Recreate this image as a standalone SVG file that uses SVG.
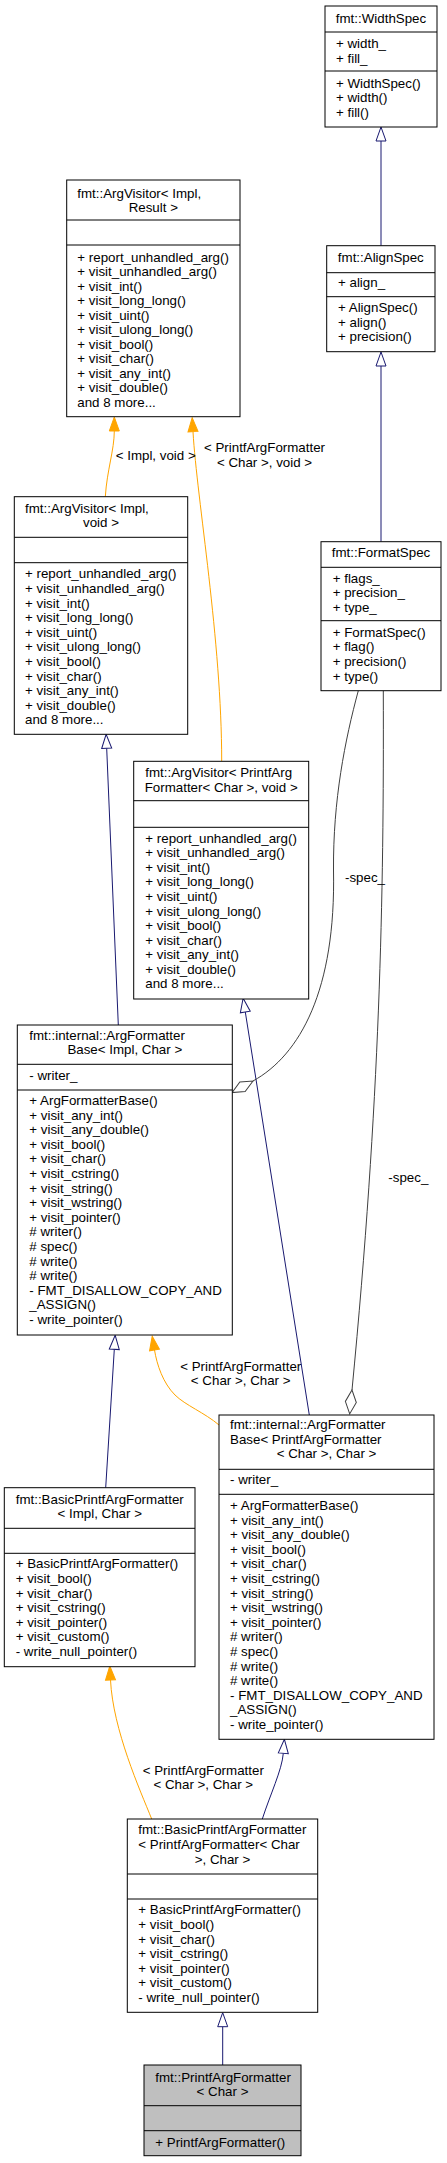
<svg xmlns="http://www.w3.org/2000/svg" width="447" height="2163" viewBox="0 0 447 2163">
<style>
.box{fill:#fff;stroke:#000;stroke-width:1}
.grey{fill:#bfbfbf}
.sep{stroke:#000;stroke-width:1}
text{font-family:"Liberation Sans",Arial,Helvetica,sans-serif;font-size:13.33px;fill:#000}
.m{text-anchor:middle}
.e{fill:none;stroke-width:1}
.inh{stroke:#191970}
.tpl{stroke:#ffa500}
.use{stroke:#404040}
</style>
<defs>
<marker id="aInh" markerUnits="userSpaceOnUse" orient="auto" overflow="visible" refX="0" refY="0" markerWidth="14" markerHeight="10"><path d="M0,-5 L14,0 L0,5 Z" fill="#fff" stroke="#191970"/></marker>
<marker id="aTpl" markerUnits="userSpaceOnUse" orient="auto" overflow="visible" refX="0" refY="0" markerWidth="14" markerHeight="10"><path d="M0,-5 L14,0 L0,5 Z" fill="#ffa500" stroke="#ffa500"/></marker>
<marker id="aAgg" markerUnits="userSpaceOnUse" orient="auto" overflow="visible" refX="0" refY="0" markerWidth="24" markerHeight="11"><path d="M0,0 L12,-5.5 L24,0 L12,5.5 Z" fill="#fff" stroke="#404040"/></marker>
</defs>

<g id="edges">
<path class="e inh" d="M381,245.7 L381,141" marker-end="url(#aInh)"/>
<path class="e inh" d="M381,541.7 L381,366" marker-end="url(#aInh)"/>
<path class="e tpl" d="M105.3,496.7 C107,470 114.3,450 114.3,431" marker-end="url(#aTpl)"/>
<path class="e tpl" d="M221.7,761.3 C221.7,640 197,500 193,431.7" marker-end="url(#aTpl)"/>
<path class="e inh" d="M118.3,1025 L106.7,748.3" marker-end="url(#aInh)"/>
<path class="e inh" d="M309.3,1415 L245.3,1012" marker-end="url(#aInh)"/>
<path class="e use" d="M358.3,690.7 C345,740 333,800 333.5,870 C336,990 300,1055 253,1081" marker-end="url(#aAgg)"/>
<path class="e use" d="M383.3,690.7 C384,900 380,1100 352,1390" marker-end="url(#aAgg)"/>
<path class="e tpl" d="M219,1425 C205,1413 185,1405 175,1395 C163,1383 157,1365 154.5,1350" marker-end="url(#aTpl)"/>
<path class="e inh" d="M105.7,1487.7 L114.3,1349.3" marker-end="url(#aInh)"/>
<path class="e tpl" d="M151.7,1819 C140,1790 113,1730 110.5,1680" marker-end="url(#aTpl)"/>
<path class="e inh" d="M262.3,1819 C270,1795 282,1770 283.3,1753.3" marker-end="url(#aInh)"/>
<path class="e inh" d="M222.7,2065 L222.7,2026.7" marker-end="url(#aInh)"/>
<text x="115.7" y="460">&lt; Impl, void &gt;</text>
<text class="m" x="264.5" y="452.3">&lt; PrintfArgFormatter</text>
<text class="m" x="264.5" y="467.3">&lt; Char &gt;, void &gt;</text>
<text x="345" y="881.7">-spec_</text>
<text x="388.3" y="1181.7">-spec_</text>
<text class="m" x="240.7" y="1370.7">&lt; PrintfArgFormatter</text>
<text class="m" x="240.7" y="1384.7">&lt; Char &gt;, Char &gt;</text>
<text class="m" x="203.3" y="1775">&lt; PrintfArgFormatter</text>
<text class="m" x="203.3" y="1789.3">&lt; Char &gt;, Char &gt;</text>
</g>

<g id="WidthSpec">
<rect class="box" x="325" y="6" width="112" height="121"/>
<line class="sep" x1="325" y1="32" x2="437" y2="32"/>
<line class="sep" x1="325" y1="71" x2="437" y2="71"/>
<text class="m" x="381" y="23">fmt::WidthSpec</text>
<text x="336" y="48">+ width_</text>
<text x="336" y="62.6">+ fill_</text>
<text x="336" y="87.7">+ WidthSpec()</text>
<text x="336" y="102.3">+ width()</text>
<text x="336" y="116.9">+ fill()</text>
</g>

<g id="AlignSpec">
<rect class="box" x="326.7" y="245.7" width="108.3" height="106"/>
<line class="sep" x1="326.7" y1="272.7" x2="435" y2="272.7"/>
<line class="sep" x1="326.7" y1="296.7" x2="435" y2="296.7"/>
<text class="m" x="380.8" y="262">fmt::AlignSpec</text>
<text x="338" y="287">+ align_</text>
<text x="338" y="312">+ AlignSpec()</text>
<text x="338" y="326.6">+ align()</text>
<text x="338" y="341.2">+ precision()</text>
</g>

<g id="FormatSpec">
<rect class="box" x="321" y="541.7" width="120" height="149"/>
<line class="sep" x1="321" y1="567.3" x2="441" y2="567.3"/>
<line class="sep" x1="321" y1="620.7" x2="441" y2="620.7"/>
<text class="m" x="381" y="557">fmt::FormatSpec</text>
<text x="332.7" y="582.7">+ flags_</text>
<text x="332.7" y="597.2">+ precision_</text>
<text x="332.7" y="611.7">+ type_</text>
<text x="332.7" y="636.7">+ FormatSpec()</text>
<text x="332.7" y="651.3">+ flag()</text>
<text x="332.7" y="665.9">+ precision()</text>
<text x="332.7" y="680.5">+ type()</text>
</g>

<g id="ArgVisitorImplResult">
<rect class="box" x="66.7" y="180" width="173.3" height="236.7"/>
<line class="sep" x1="66.7" y1="220" x2="240" y2="220"/>
<line class="sep" x1="66.7" y1="245" x2="240" y2="245"/>
<text x="77.3" y="198.3">fmt::ArgVisitor&lt; Impl,</text>
<text class="m" x="153.3" y="212">Result &gt;</text>
<text x="77.3" y="261.7">+ report_unhandled_arg()</text>
<text x="77.3" y="276.2">+ visit_unhandled_arg()</text>
<text x="77.3" y="290.7">+ visit_int()</text>
<text x="77.3" y="305.2">+ visit_long_long()</text>
<text x="77.3" y="319.7">+ visit_uint()</text>
<text x="77.3" y="334.2">+ visit_ulong_long()</text>
<text x="77.3" y="348.7">+ visit_bool()</text>
<text x="77.3" y="363.2">+ visit_char()</text>
<text x="77.3" y="377.7">+ visit_any_int()</text>
<text x="77.3" y="392.2">+ visit_double()</text>
<text x="77.3" y="406.7">and 8 more...</text>
</g>

<g id="ArgVisitorImplVoid">
<rect class="box" x="14.3" y="496.7" width="173.4" height="237.6"/>
<line class="sep" x1="14.3" y1="537.3" x2="187.7" y2="537.3"/>
<line class="sep" x1="14.3" y1="562.7" x2="187.7" y2="562.7"/>
<text x="25" y="513.3">fmt::ArgVisitor&lt; Impl,</text>
<text class="m" x="101" y="527">void &gt;</text>
<text x="25" y="578.3">+ report_unhandled_arg()</text>
<text x="25" y="592.9">+ visit_unhandled_arg()</text>
<text x="25" y="607.5">+ visit_int()</text>
<text x="25" y="622.1">+ visit_long_long()</text>
<text x="25" y="636.7">+ visit_uint()</text>
<text x="25" y="651.3">+ visit_ulong_long()</text>
<text x="25" y="665.9">+ visit_bool()</text>
<text x="25" y="680.5">+ visit_char()</text>
<text x="25" y="695.1">+ visit_any_int()</text>
<text x="25" y="709.7">+ visit_double()</text>
<text x="25" y="724.3">and 8 more...</text>
</g>

<g id="ArgVisitorPrintfVoid">
<rect class="box" x="133.7" y="761.3" width="175" height="237.7"/>
<line class="sep" x1="133.7" y1="800.7" x2="308.7" y2="800.7"/>
<line class="sep" x1="133.7" y1="827.3" x2="308.7" y2="827.3"/>
<text x="145.3" y="776.7">fmt::ArgVisitor&lt; PrintfArg</text>
<text class="m" x="221.2" y="791.5">Formatter&lt; Char &gt;, void &gt;</text>
<text x="145.3" y="842.7">+ report_unhandled_arg()</text>
<text x="145.3" y="857.3">+ visit_unhandled_arg()</text>
<text x="145.3" y="871.8">+ visit_int()</text>
<text x="145.3" y="886.4">+ visit_long_long()</text>
<text x="145.3" y="900.9">+ visit_uint()</text>
<text x="145.3" y="915.5">+ visit_ulong_long()</text>
<text x="145.3" y="930">+ visit_bool()</text>
<text x="145.3" y="944.6">+ visit_char()</text>
<text x="145.3" y="959.1">+ visit_any_int()</text>
<text x="145.3" y="973.7">+ visit_double()</text>
<text x="145.3" y="988.2">and 8 more...</text>
</g>

<g id="ArgFormatterBaseImplChar">
<rect class="box" x="17.3" y="1025" width="215" height="310"/>
<line class="sep" x1="17.3" y1="1064.3" x2="232.3" y2="1064.3"/>
<line class="sep" x1="17.3" y1="1090" x2="232.3" y2="1090"/>
<text x="29.3" y="1040">fmt::internal::ArgFormatter</text>
<text class="m" x="124.8" y="1054">Base&lt; Impl, Char &gt;</text>
<text x="29.3" y="1080">- writer_</text>
<text x="29.3" y="1105">+ ArgFormatterBase()</text>
<text x="29.3" y="1119.6">+ visit_any_int()</text>
<text x="29.3" y="1134.2">+ visit_any_double()</text>
<text x="29.3" y="1148.8">+ visit_bool()</text>
<text x="29.3" y="1163.4">+ visit_char()</text>
<text x="29.3" y="1178">+ visit_cstring()</text>
<text x="29.3" y="1192.6">+ visit_string()</text>
<text x="29.3" y="1207.2">+ visit_wstring()</text>
<text x="29.3" y="1221.8">+ visit_pointer()</text>
<text x="29.3" y="1236.4"># writer()</text>
<text x="29.3" y="1251"># spec()</text>
<text x="29.3" y="1265.6"># write()</text>
<text x="29.3" y="1280.2"># write()</text>
<text x="29.3" y="1294.8">- FMT_DISALLOW_COPY_AND</text>
<text x="29.3" y="1309.4">_ASSIGN()</text>
<text x="29.3" y="1324">- write_pointer()</text>
</g>

<g id="ArgFormatterBasePrintfChar">
<rect class="box" x="219" y="1415" width="215" height="324.3"/>
<line class="sep" x1="219" y1="1469.3" x2="434" y2="1469.3"/>
<line class="sep" x1="219" y1="1494.3" x2="434" y2="1494.3"/>
<text x="230" y="1429.3">fmt::internal::ArgFormatter</text>
<text x="230" y="1443.8">Base&lt; PrintfArgFormatter</text>
<text class="m" x="326.5" y="1458.3">&lt; Char &gt;, Char &gt;</text>
<text x="230" y="1484">- writer_</text>
<text x="230" y="1510">+ ArgFormatterBase()</text>
<text x="230" y="1524.6">+ visit_any_int()</text>
<text x="230" y="1539.2">+ visit_any_double()</text>
<text x="230" y="1553.8">+ visit_bool()</text>
<text x="230" y="1568.4">+ visit_char()</text>
<text x="230" y="1583">+ visit_cstring()</text>
<text x="230" y="1597.6">+ visit_string()</text>
<text x="230" y="1612.2">+ visit_wstring()</text>
<text x="230" y="1626.8">+ visit_pointer()</text>
<text x="230" y="1641.4"># writer()</text>
<text x="230" y="1656"># spec()</text>
<text x="230" y="1670.6"># write()</text>
<text x="230" y="1685.2"># write()</text>
<text x="230" y="1699.8">- FMT_DISALLOW_COPY_AND</text>
<text x="230" y="1714.4">_ASSIGN()</text>
<text x="230" y="1729">- write_pointer()</text>
</g>

<g id="BasicPrintfArgFormatterImplChar">
<rect class="box" x="4.3" y="1487.7" width="190.7" height="179"/>
<line class="sep" x1="4.3" y1="1528.3" x2="195" y2="1528.3"/>
<line class="sep" x1="4.3" y1="1553.3" x2="195" y2="1553.3"/>
<text x="15.7" y="1504">fmt::BasicPrintfArgFormatter</text>
<text class="m" x="99.7" y="1518.3">&lt; Impl, Char &gt;</text>
<text x="15.7" y="1568.3">+ BasicPrintfArgFormatter()</text>
<text x="15.7" y="1582.9">+ visit_bool()</text>
<text x="15.7" y="1597.5">+ visit_char()</text>
<text x="15.7" y="1612.1">+ visit_cstring()</text>
<text x="15.7" y="1626.7">+ visit_pointer()</text>
<text x="15.7" y="1641.3">+ visit_custom()</text>
<text x="15.7" y="1655.9">- write_null_pointer()</text>
</g>

<g id="BasicPrintfArgFormatterPrintfChar">
<rect class="box" x="127.3" y="1819" width="190.4" height="193.3"/>
<line class="sep" x1="127.3" y1="1874" x2="317.7" y2="1874"/>
<line class="sep" x1="127.3" y1="1899" x2="317.7" y2="1899"/>
<text x="138.3" y="1834">fmt::BasicPrintfArgFormatter</text>
<text x="138.3" y="1849">&lt; PrintfArgFormatter&lt; Char</text>
<text class="m" x="222.5" y="1864">&gt;, Char &gt;</text>
<text x="138.3" y="1914.3">+ BasicPrintfArgFormatter()</text>
<text x="138.3" y="1928.9">+ visit_bool()</text>
<text x="138.3" y="1943.5">+ visit_char()</text>
<text x="138.3" y="1958.1">+ visit_cstring()</text>
<text x="138.3" y="1972.7">+ visit_pointer()</text>
<text x="138.3" y="1987.3">+ visit_custom()</text>
<text x="138.3" y="2001.9">- write_null_pointer()</text>
</g>

<g id="PrintfArgFormatterChar">
<rect class="box grey" x="144" y="2065" width="157" height="90.7"/>
<line class="sep" x1="144" y1="2105.7" x2="301" y2="2105.7"/>
<line class="sep" x1="144" y1="2130.7" x2="301" y2="2130.7"/>
<text x="155.3" y="2081.7">fmt::PrintfArgFormatter</text>
<text class="m" x="222.5" y="2096">&lt; Char &gt;</text>
<text x="155.3" y="2146.7">+ PrintfArgFormatter()</text>
</g>
</svg>
